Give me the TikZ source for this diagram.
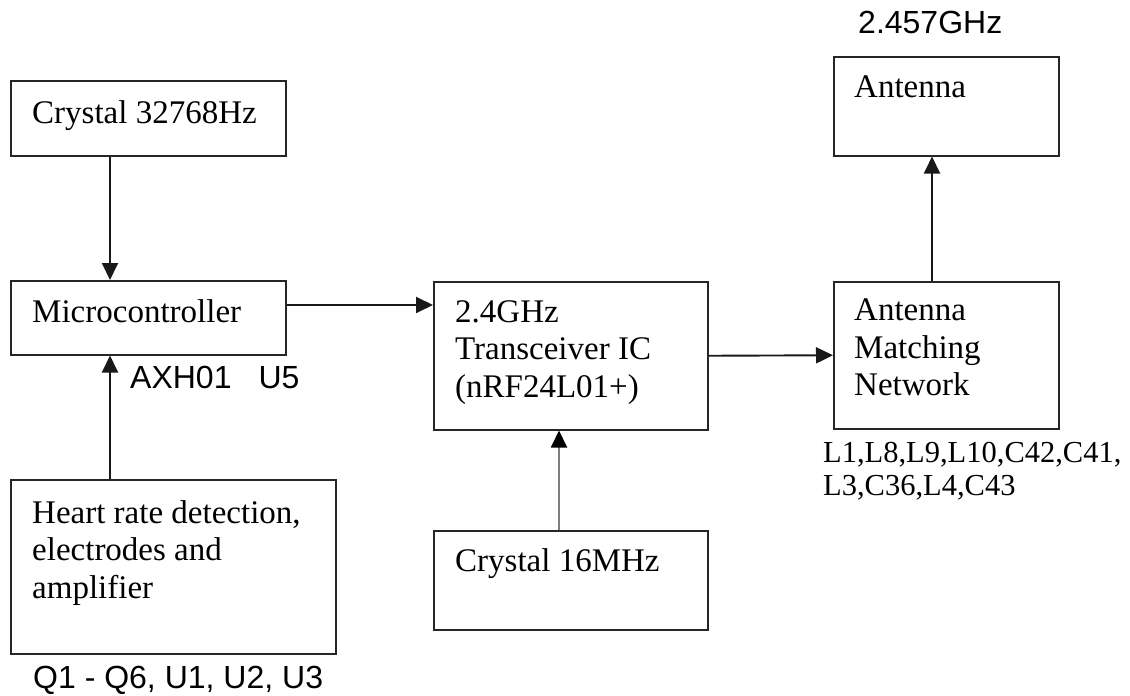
\documentclass[tikz,border=0pt]{standalone}
\usepackage{fontspec}
\setmainfont{Liberation Serif}
\newfontfamily\arialfont{Liberation Sans}
\usetikzlibrary{arrows.meta}
\begin{document}
\begin{tikzpicture}[x=1pt,y=-1pt,
  box/.style={draw=black!85,line width=1.5pt,inner sep=0pt,anchor=north west},
  txt/.style={inner sep=0pt,anchor=base west,font=\fontsize{33}{37.5}\selectfont},
  mtxt/.style={inner sep=0pt,anchor=north west,align=left,font=\fontsize{33}{37.5}\selectfont},
  lab/.style={inner sep=0pt,anchor=base west,font=\arialfont\fontsize{32}{38}\selectfont},
  slab/.style={inner sep=0pt,anchor=north west,align=left,font=\fontsize{30.5}{33}\selectfont},
  arr/.style={draw=black!90,line width=1.9pt,-{Triangle[length=17pt,width=16pt]}},
  garr/.style={draw=black!50,line width=1.9pt,-{Triangle[length=17pt,width=16pt,color=black]}}]
\useasboundingbox (0,0) rectangle (1130,696);
% boxes
\node[box,minimum width=275pt,minimum height=75pt] (c1) at (10,80) {};
\node[box,minimum width=275pt,minimum height=74pt] (mc) at (10,280) {};
\node[box,minimum width=325pt,minimum height=174pt] (hr) at (10,479) {};
\node[box,minimum width=274pt,minimum height=148pt] (tr) at (433,281) {};
\node[box,minimum width=274pt,minimum height=99pt] (c16) at (433,530) {};
\node[box,minimum width=225pt,minimum height=99pt] (an) at (833,56) {};
\node[box,minimum width=225pt,minimum height=147pt] (mn) at (833,281) {};
% texts in boxes
\node[txt] (c1t) at (32,123) {Crystal 32768Hz};
\node[txt] (mct) at (32,322) {Microcontroller};
\node[mtxt] (hrt) at (32,500) {Heart rate detection,\\electrodes and\\amplifier};
\node[mtxt] (trt) at (455,300) {2.4GHz\\Transceiver IC\\(nRF24L01+)};
\node[txt] (c16t) at (455,571) {Crystal 16MHz};
\node[txt] (ant) at (854,97) {Antenna};
\node[mtxt] (mnt) at (854,299) {Antenna\\Matching\\Network};
% outside labels
\node[lab] (freq) at (858,33) {2.457GHz};
\node[lab] (axh) at (130,388) {AXH01\hspace{27pt}U5};
\node[lab] (qlab) at (33,688) {Q1 - Q6, U1, U2, U3};
\node[slab] (llab) at (823,442) {L1,L8,L9,L10,C42,C41,\\L3,C36,L4,C43};
% connectors
\draw[arr] ([xshift=100pt]c1.south west) -- ([xshift=100pt]mc.north west);
\draw[arr] ([xshift=100pt]hr.north west) -- ([xshift=100pt]mc.south west);
\draw[arr] ([yshift=-25pt]mc.north east) -- ([yshift=-25pt]mc.north east -| tr.west);
\draw[arr] (tr.east) -- (mn.west);
\draw[garr] ([xshift=126pt]c16.north west) -- ([xshift=126pt]c16.north west |- tr.south);
\draw[arr] ([xshift=99pt]mn.north west) -- ([xshift=99pt]an.south west);
\end{tikzpicture}
\end{document}
